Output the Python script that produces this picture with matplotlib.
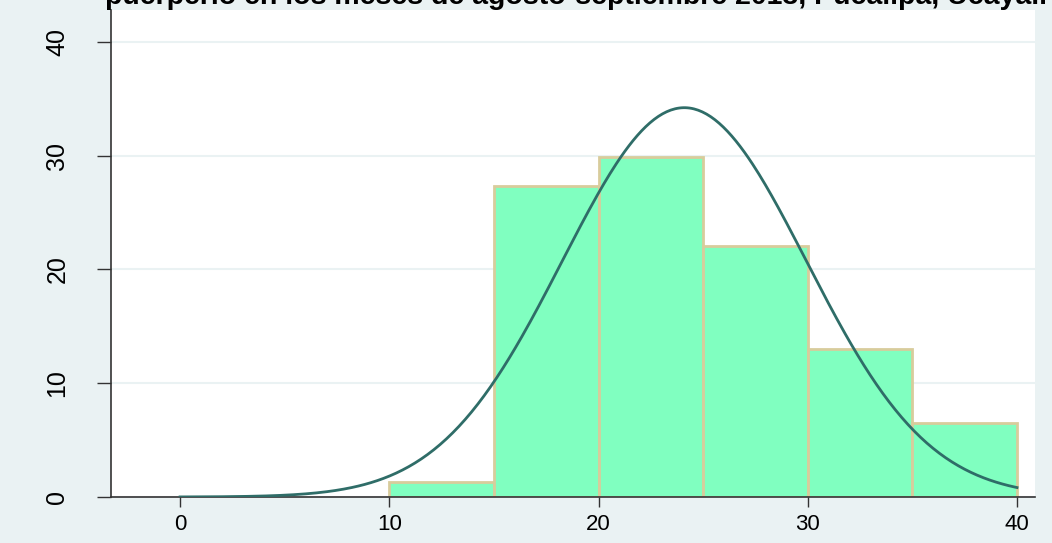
import numpy as np
import matplotlib.pyplot as plt

# Histogram bins (percent of cases per 5-unit bin)
bin_edges = [10, 15, 20, 25, 30, 35, 40]
percent = [1.3, 27.3, 29.9, 22.1, 13.0, 6.5]

# Normal curve overlaid on the histogram
curve_mean = 24.1
curve_sd = 5.83
curve_start, curve_end = 0, 40

x_ticks = [0, 10, 20, 30, 40]
y_ticks = [0, 10, 20, 30, 40]

title_text = "puerperio en los meses de agosto-septiembre 2013, Pucallpa, Ucayali"

plt.rcParams['font.family'] = ['Liberation Sans', 'DejaVu Sans']

bg = '#eaf2f3'
fig = plt.figure(figsize=(10.52, 5.43), dpi=100, facecolor=bg)
ax = fig.add_axes([111 / 1052, 1 - 497 / 543, (1035 - 111) / 1052, (497 - 10) / 543])
ax.set_facecolor('white')

widths = np.diff(bin_edges)
ax.bar(bin_edges[:-1], percent, width=widths, align='edge',
       color='#80ffc0', edgecolor='#d8cc9c', linewidth=2, zorder=2)

xs = np.linspace(curve_start, curve_end, 400)
bin_w = widths[0]
dens = 100 * bin_w / (curve_sd * np.sqrt(2 * np.pi)) * np.exp(-0.5 * ((xs - curve_mean) / curve_sd) ** 2)
ax.plot(xs, dens, color='#2f6d68', linewidth=2, zorder=3)

ax.set_xlim(-3.3, 40.86)
ax.set_ylim(0, 42.8)
ax.set_xticks(x_ticks)
ax.set_xticklabels([str(v) for v in x_ticks], fontsize=16)
ax.set_yticks(y_ticks)
ax.set_yticklabels([str(v) for v in y_ticks], rotation=90, va='center', fontsize=18)
ax.tick_params(axis='x', length=7, width=1, color='#333333', pad=5)
ax.tick_params(axis='y', length=10, width=1, color='#333333', pad=20)

ax.yaxis.grid(True, color='#eaf2f3', linewidth=1.5, zorder=1)
ax.set_axisbelow(True)
for side in ['top', 'right']:
    ax.spines[side].set_visible(False)
for side in ['left', 'bottom']:
    ax.spines[side].set_color('#333333')
    ax.spines[side].set_linewidth(1.2)

fig.text(105 / 1052, 1 - 4 / 543, title_text, fontsize=20.5, fontweight='bold',
         ha='left', va='baseline', color='black')

fig.savefig('out.png', dpi=100, facecolor=bg)
